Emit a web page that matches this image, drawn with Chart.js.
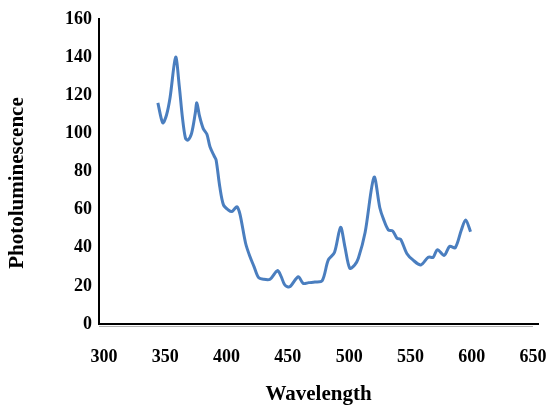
<!DOCTYPE html>
<html>
<head>
<meta charset="utf-8">
<script src="https://cdn.jsdelivr.net/npm/chart.js@4"></script>
<style>
  html, body { margin: 0; padding: 0; background: #fff; }
  #wrap { width: 549px; height: 409px; }
</style>
</head>
<body>
<div id="wrap"><canvas id="plChart"></canvas></div>
<script>
// wavelength (nm) and photoluminescence
const wavelength = [344, 348, 351, 354, 358.5, 361.5, 364, 366.5, 368.5, 371.5,
    374.5, 375.8, 378, 381, 384, 386.5, 390, 391.5, 394.5, 397.5,
    401.5, 404.5, 406, 408.5, 411, 415.5, 419, 422.5, 426, 430,
    435.5, 441.5, 444.5, 447.5, 451.5, 458.5, 462.5, 467, 472, 478,
    483, 488, 493, 496.5, 500.5, 504.5, 507.5, 513, 520.3, 525,
    528, 532, 535.5, 539, 542, 547, 552, 558.5, 564.5, 568.5,
    572, 577.5, 582, 586.5, 591.5, 595, 599];
const photolum = [116, 105.5, 109.5, 119, 140, 124.5, 108.5, 97.5, 96.5, 100,
    110.5, 116, 109, 102.5, 99.5, 93, 88, 86, 72, 62.5,
    59.8, 59, 60, 61.5, 57.5, 42.5, 35.5, 30, 24.5, 23.5,
    23.5, 28, 25, 20.5, 19.5, 24.8, 21.3, 21.7, 22, 22.7,
    33.6, 37.5, 50.7, 40.6, 29.2, 31, 34.5, 48, 77, 61,
    55, 49.3, 48.8, 45, 44.4, 37, 33.6, 31, 35, 35,
    39, 36, 40.8, 40, 49.3, 54.6, 48.4];

const xTicks = [300, 350, 400, 450, 500, 550, 600, 650];
const yTicks = [0, 20, 40, 60, 80, 100, 120, 140, 160];

const points = wavelength.map((w, i) => ({ x: w, y: photolum[i] }));

const serif = '"Liberation Serif", "Times New Roman", serif';

// y title drawn by hand so it sits where the original has it, plus the grey axis shadow
const extras = {
    id: 'extras',
    afterDraw(chart) {
        const ctx = chart.ctx;
        const area = chart.chartArea;
        ctx.save();
        ctx.strokeStyle = '#b0b0b0';
        ctx.lineWidth = 1;
        ctx.beginPath();
        ctx.moveTo(area.left, area.bottom + 2.5);
        ctx.lineTo(area.right - 5, area.bottom + 2.5);
        ctx.stroke();

        ctx.translate(18, 183);
        ctx.rotate(-Math.PI / 2);
        ctx.fillStyle = '#000';
        ctx.font = 'bold 21px ' + serif;
        ctx.textAlign = 'center';
        ctx.textBaseline = 'middle';
        ctx.fillText('Photoluminescence', 0, 0);
        ctx.restore();
    }
};

new Chart(document.getElementById('plChart'), {
    type: 'line',
    data: {
        datasets: [{
            label: 'PL',
            data: points,
            borderColor: '#4a7ebf',
            borderWidth: 3,
            pointRadius: 0,
            tension: 0.3,
            fill: false
        }]
    },
    options: {
        responsive: true,
        maintainAspectRatio: false,
        animation: false,
        layout: { padding: { top: 19, right: 11, left: 0, bottom: 0 } },
        plugins: {
            legend: { display: false },
            tooltip: { enabled: false }
        },
        scales: {
            x: {
                type: 'linear',
                min: 296,
                max: 654,
                afterBuildTicks: (scale) => { scale.ticks = xTicks.map(v => ({ value: v })); },
                afterFit: (scale) => {
                    scale.height = 85;
                    scale.paddingLeft = 0;
                    scale.paddingRight = 0;
                },
                grid: { display: false, drawTicks: false },
                border: { display: true, color: '#000', width: 2 },
                ticks: {
                    color: '#000',
                    padding: 23,
                    maxRotation: 0,
                    font: { family: serif, size: 18, weight: 'bold' }
                },
                title: {
                    display: true,
                    text: 'Wavelength',
                    color: '#000',
                    padding: { top: 0, bottom: 2 },
                    font: { family: serif, size: 21, weight: 'bold' }
                }
            },
            y: {
                min: 0,
                max: 160,
                afterBuildTicks: (scale) => { scale.ticks = yTicks.map(v => ({ value: v })); },
                afterFit: (scale) => {
                    scale.width = 99;
                    scale.paddingTop = 0;
                    scale.paddingBottom = 0;
                },
                grid: { display: false, drawTicks: false },
                border: { display: true, color: '#000', width: 2 },
                ticks: {
                    color: '#000',
                    padding: 7,
                    font: { family: serif, size: 18, weight: 'bold' }
                }
            }
        }
    },
    plugins: [extras]
});
</script>
</body>
</html>
